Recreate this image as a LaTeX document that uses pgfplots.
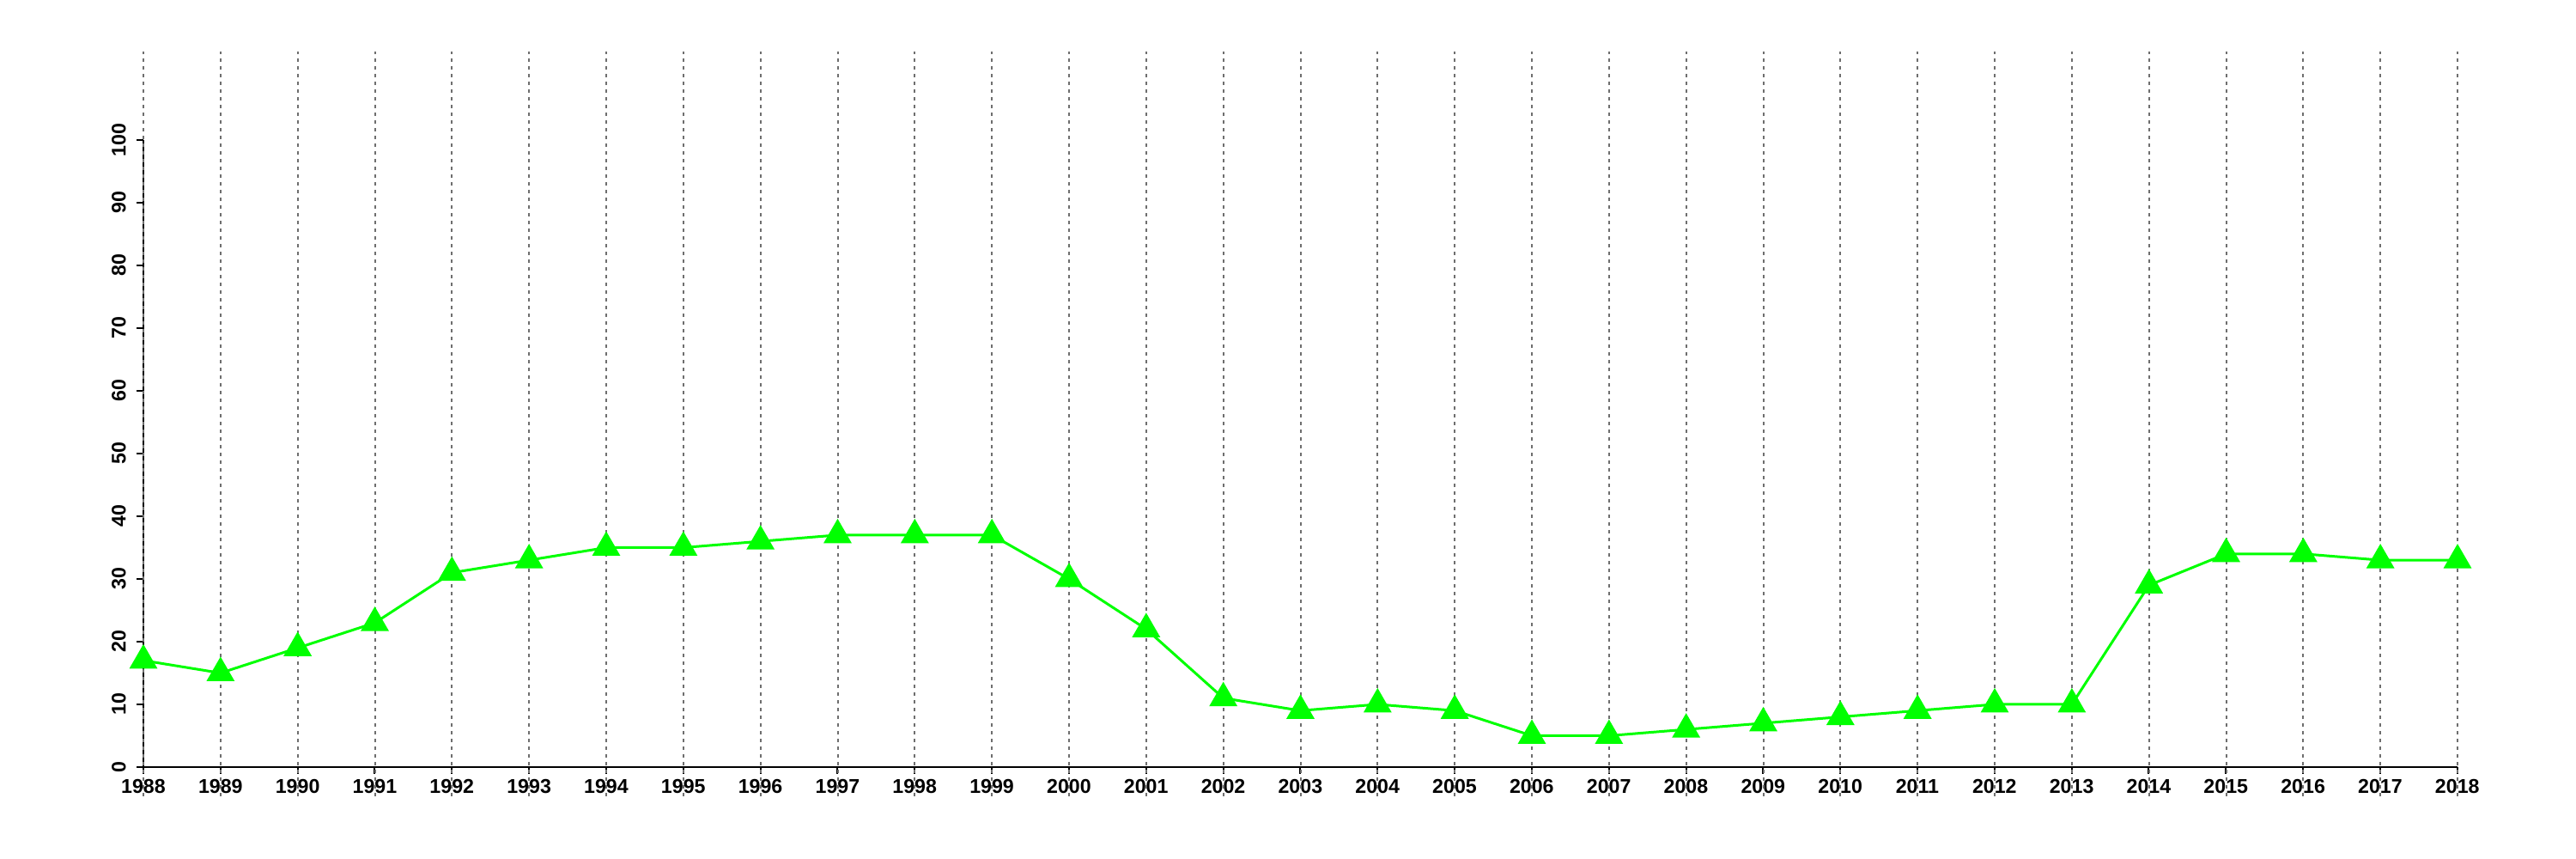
\documentclass[border=0pt]{standalone}
\usepackage{fontspec}
\setmainfont{Liberation Sans}
\usepackage{pgfplots}
\pgfplotsset{compat=1.18}
\definecolor{lgreen}{RGB}{0,255,0}
\definecolor{gridgray}{RGB}{110,110,110}
\begin{document}
\begin{tikzpicture}
\useasboundingbox (-16.7mm,-10.7mm) rectangle (283.3mm,89.3mm);
\begin{axis}[
    at={(0,0)}, anchor=south west,
    scale only axis, width=269.5mm, height=73mm,
    xmin=1988, xmax=2018, ymin=0, ymax=100,
    axis x line=bottom, axis y line=left,
    axis line style={-, black, line width=0.2mm},
    xtick={1988,...,2018}, ytick={0,10,...,100},
    tick align=outside, major tick length=0.8mm,
    tick style={black, line width=0.2mm},
    clip=false,
    /pgf/number format/assume math mode=true,
    /pgf/number format/1000 sep={},
    ticklabel style={font=\fontsize{6.6}{7}\selectfont\bfseries},
    xticklabel style={yshift=0.6mm},
    yticklabel style={rotate=90, anchor=south},
  ]
  \pgfplotsinvokeforeach{1988,...,2018}{
    \draw[gridgray, line width=0.2mm, dash pattern=on 0.4mm off 0.5mm]
      (axis cs:#1,-4.66) -- (axis cs:#1,114.1);
  }
  \addplot[lgreen, line width=0.3mm, mark=triangle*, mark size=1.6mm,
           mark options={fill=lgreen, draw=lgreen}] coordinates {
    (1988,17) (1989,15) (1990,19) (1991,23) (1992,31) (1993,33)
    (1994,35) (1995,35) (1996,36) (1997,37) (1998,37) (1999,37)
    (2000,30) (2001,22) (2002,11) (2003,9) (2004,10) (2005,9)
    (2006,5) (2007,5) (2008,6) (2009,7) (2010,8) (2011,9)
    (2012,10) (2013,10) (2014,29) (2015,34) (2016,34) (2017,33)
    (2018,33)
  };
\end{axis}
\end{tikzpicture}
\end{document}
